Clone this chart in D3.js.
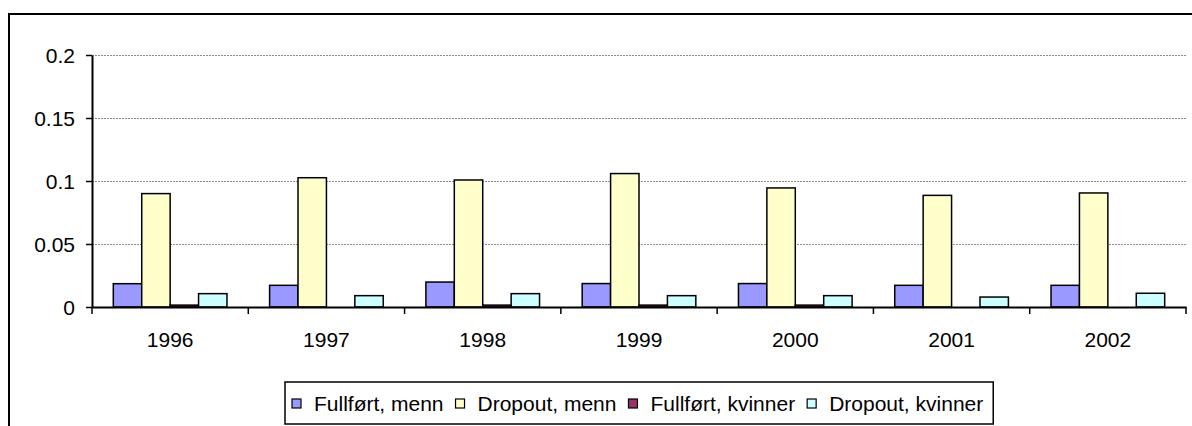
<!DOCTYPE html>
<html>
<head>
<meta charset="utf-8">
<script src="https://cdn.jsdelivr.net/npm/d3@7"></script>
<style>
    body { margin: 0; background: #ffffff; }
    svg { display: block; }
    text { font-family: "Liberation Sans", Arial, sans-serif; fill: #000000; }
</style>
</head>
<body>
<svg id="chart"></svg>
<script>
// DATA
var years = ["1996", "1997", "1998", "1999", "2000", "2001", "2002"];
var seriesNames = ["Fullført, menn", "Dropout, menn", "Fullført, kvinner", "Dropout, kvinner"];
var fullfortMenn    = [0.0185, 0.0172, 0.0198, 0.0186, 0.0186, 0.0172, 0.0172];
var dropoutMenn     = [0.0900, 0.1026, 0.1008, 0.1059, 0.0945, 0.0886, 0.0905];
var fullfortKvinner = [0.0015, 0,      0.0015, 0.0015, 0.0015, 0,      0];
var dropoutKvinner  = [0.0106, 0.0090, 0.0106, 0.0090, 0.0090, 0.0079, 0.0109];
var yTicks      = [0, 0.05, 0.1, 0.15, 0.2];
var yTickLabels = ["0", "0.05", "0.1", "0.15", "0.2"];

var seriesValues = [fullfortMenn, dropoutMenn, fullfortKvinner, dropoutKvinner];
var seriesColors = ["#9999ff", "#ffffcc", "#993366", "#ccffff"];

var fontSize = "21px";

// SETUP
var width = 1192,
    height = 426,
    plot = { left: 92, right: 1186, top: 55, bottom: 307 };

var svg = d3.select("#chart")
    .attr("width", width)
    .attr("height", height);

var x = d3.scaleBand()
    .domain(years)
    .range([plot.left, plot.right])
    .padding(0);

var xInner = d3.scaleBand()
    .domain(seriesNames)
    .range([0, x.bandwidth()])
    .paddingInner(0)
    .paddingOuter(0.75);

var y = d3.scaleLinear()
    .domain([0, 0.2])
    .range([plot.bottom, plot.top]);

//Outer chart frame (runs off the right and bottom edge)
svg.append("rect")
    .attr("x", 9)
    .attr("y", 14)
    .attr("width", width + 20)
    .attr("height", height + 20)
    .attr("fill", "none")
    .attr("stroke", "#000000")
    .attr("stroke-width", 2);

//Gridlines
svg.append("g")
    .selectAll("line")
    .data(yTicks.filter(function (d) { return d > 0; }))
    .enter().append("line")
    .attr("x1", plot.left)
    .attr("x2", plot.right)
    .attr("y1", function (d) { return y(d) + 0.5; })
    .attr("y2", function (d) { return y(d) + 0.5; })
    .attr("stroke", "#8c8c8c")
    .attr("stroke-width", 1)
    .attr("stroke-dasharray", "2,1");

// BARS
var rows = years.map(function (year, i) {
    return seriesNames.map(function (name, s) {
        return { year: year, name: name, value: seriesValues[s][i], color: seriesColors[s] };
    });
});

svg.append("g")
    .selectAll("g")
    .data(rows)
    .enter().append("g")
    .attr("transform", function (d) { return "translate(" + x(d[0].year) + ",0)"; })
    .selectAll("rect")
    .data(function (d) { return d.filter(function (b) { return b.value > 0; }); })
    .enter().append("rect")
    .attr("x", function (d) { return xInner(d.name); })
    .attr("y", function (d) { return y(d.value); })
    .attr("width", xInner.bandwidth())
    .attr("height", function (d) { return y(0) - y(d.value); })
    .attr("fill", function (d) { return d.color; })
    .attr("stroke", "#000000")
    .attr("stroke-width", 1.5);

// Y AXIS
var yAxis = svg.append("g")
    .attr("transform", "translate(" + plot.left + ",0)")
    .call(d3.axisLeft(y)
        .tickValues(yTicks)
        .tickFormat(function (d, i) { return yTickLabels[i]; })
        .tickSize(6)
        .tickSizeOuter(0)
        .tickPadding(11));
yAxis.select(".domain").attr("stroke", "#000000").attr("stroke-width", 2);
yAxis.selectAll(".tick line").attr("stroke", "#000000").attr("stroke-width", 1.5);
yAxis.selectAll("text")
    .attr("font-size", fontSize)
    .attr("font-family", "Liberation Sans, Arial, sans-serif")
    .attr("dy", "0.36em");

// X AXIS
var xAxis = svg.append("g")
    .attr("transform", "translate(0," + plot.bottom + ")")
    .call(d3.axisBottom(x).tickSize(0).tickSizeOuter(0).tickPadding(25));
xAxis.select(".domain").attr("stroke", "#000000").attr("stroke-width", 2);
xAxis.selectAll("text")
    .attr("font-size", fontSize)
    .attr("font-family", "Liberation Sans, Arial, sans-serif");

//Category boundary ticks
var boundaries = years.map(function (d) { return x(d); }).concat([x.range()[1]]);
xAxis.selectAll(".boundary")
    .data(boundaries)
    .enter().append("line")
    .attr("class", "boundary")
    .attr("x1", function (d) { return d; })
    .attr("x2", function (d) { return d; })
    .attr("y1", 0)
    .attr("y2", 7)
    .attr("stroke", "#000000")
    .attr("stroke-width", 1.5);

// LEGEND
var legend = svg.append("g");
var legendBox = legend.append("rect")
    .attr("x", 285)
    .attr("y", 382)
    .attr("height", 42)
    .attr("fill", "#ffffff")
    .attr("stroke", "#000000")
    .attr("stroke-width", 1.5);

var cursor = 292;
seriesNames.forEach(function (name, s) {
    legend.append("rect")
        .attr("x", cursor)
        .attr("y", 399)
        .attr("width", 9)
        .attr("height", 9)
        .attr("fill", seriesColors[s])
        .attr("stroke", "#000000")
        .attr("stroke-width", 1.2);
    var label = legend.append("text")
        .attr("x", cursor + 22)
        .attr("y", 411)
        .attr("font-size", fontSize)
        .text(name);
    cursor = cursor + 22 + label.node().getComputedTextLength() + 12;
});
legendBox.attr("width", cursor - 285 - 2);
</script>
</body>
</html>
